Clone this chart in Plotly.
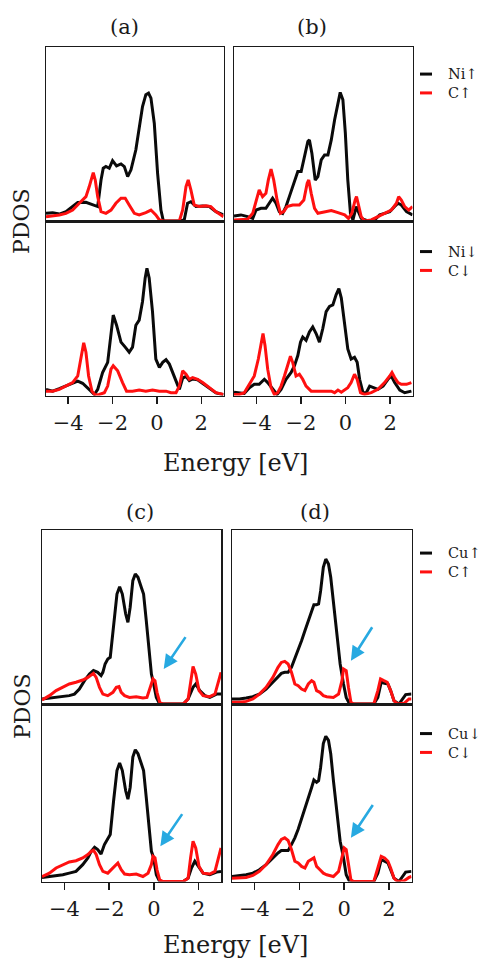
import plotly.graph_objects as go

# ---------------- data (energy in eV, PDOS in arbitrary units) ----------------
# (a) Ni, spin up / down
a_up_ni_e = [-5.0,-4.70,-4.40,-4.10,-3.80,-3.57,-3.20,-2.90,-2.67,-2.52,-2.42,-2.30,-2.15,-2.00,-1.82,-1.62,-1.47,-1.32,-1.17,-0.95,-0.80,-0.65,-0.50,-0.38,-0.27,-0.12,0.03,0.18,0.29,0.71,1.01,1.23,1.38,1.53,1.76,2.06,2.36,2.66,3.0]
a_up_ni_d = [0.044,0.048,0.040,0.054,0.083,0.106,0.107,0.092,0.083,0.236,0.303,0.313,0.303,0.347,0.317,0.328,0.313,0.255,0.294,0.409,0.543,0.658,0.726,0.735,0.706,0.562,0.274,0.063,0,0,0,0.006,0.102,0.111,0.083,0.086,0.083,0.054,0.035]
a_up_c_e = [-5.0,-4.70,-4.40,-4.10,-3.80,-3.50,-3.20,-3.05,-2.87,-2.78,-2.67,-2.52,-2.30,-2.07,-1.85,-1.62,-1.43,-1.25,-1.02,-0.80,-0.50,-0.27,-0.05,0.11,0.29,1.01,1.16,1.31,1.41,1.53,1.68,1.91,2.21,2.43,2.66,3.0]
a_up_c_d = [0.025,0.029,0.035,0.044,0.063,0.102,0.140,0.198,0.278,0.236,0.140,0.054,0.044,0.063,0.102,0.131,0.131,0.092,0.044,0.035,0.048,0.063,0.035,0.006,0,0,0.063,0.198,0.236,0.179,0.092,0.083,0.088,0.083,0.054,0.025]
a_dn_ni_e = [-5.0,-4.70,-4.40,-4.10,-3.80,-3.57,-3.35,-3.05,-2.82,-2.67,-2.45,-2.22,-2.07,-1.97,-1.82,-1.62,-1.43,-1.25,-1.10,-0.95,-0.80,-0.65,-0.53,-0.45,-0.35,-0.20,-0.05,0.11,0.26,0.41,0.56,0.71,0.86,1.01,1.16,1.31,1.46,1.61,1.83,2.06,2.36,2.66,3.0]
a_dn_ni_d = [0.035,0.025,0.039,0.054,0.070,0.083,0.070,0.035,0.006,0.035,0.132,0.190,0.345,0.461,0.403,0.306,0.277,0.248,0.277,0.403,0.432,0.539,0.674,0.729,0.674,0.481,0.209,0.161,0.190,0.205,0.180,0.132,0.074,0.035,0.10,0.11,0.085,0.095,0.09,0.07,0.04,0.015,0.005]
a_dn_c_e = [-5.0,-4.70,-4.40,-4.10,-3.80,-3.57,-3.42,-3.30,-3.20,-3.08,-2.93,-2.78,-2.60,-2.37,-2.22,-2.07,-1.97,-1.77,-1.55,-1.37,-1.10,-0.80,-0.50,-0.20,0.11,0.41,0.63,0.86,1.01,1.16,1.31,1.46,1.61,1.83,2.06,2.36,2.66,3.0]
a_dn_c_d = [0.025,0.025,0.035,0.054,0.074,0.112,0.209,0.302,0.248,0.112,0.025,0.002,0.006,0.016,0.054,0.151,0.171,0.141,0.074,0.025,0.025,0.031,0.025,0.031,0.025,0.025,0.016,0.016,0.054,0.141,0.122,0.093,0.103,0.093,0.074,0.045,0.016,0.006]

# (b) Ni, spin up / down
b_up_ni_e = [-5.0,-4.69,-4.39,-4.16,-4.01,-3.79,-3.57,-3.42,-3.27,-3.12,-2.97,-2.82,-2.67,-2.52,-2.29,-2.14,-1.99,-1.84,-1.69,-1.62,-1.51,-1.36,-1.24,-1.09,-0.94,-0.79,-0.64,-0.49,-0.34,-0.24,-0.12,-0.01,0.10,0.22,0.33,0.48,0.70,1.00,1.30,1.53,1.75,1.98,2.20,2.35,2.50,2.73,3.0]
b_up_ni_d = [0.029,0.035,0.025,0.015,0.063,0.073,0.073,0.102,0.131,0.102,0.054,0.044,0.083,0.140,0.236,0.284,0.284,0.370,0.457,0.466,0.390,0.236,0.255,0.351,0.380,0.380,0.466,0.582,0.687,0.739,0.697,0.505,0.236,0.044,0.006,0.083,0.015,0,0.006,0.035,0.044,0.054,0.083,0.102,0.092,0.054,0.035]
b_up_c_e = [-5.0,-4.69,-4.39,-4.16,-3.97,-3.87,-3.72,-3.57,-3.46,-3.34,-3.22,-3.07,-2.92,-2.77,-2.62,-2.37,-2.07,-1.87,-1.72,-1.65,-1.54,-1.39,-1.24,-0.94,-0.64,-0.34,-0.04,0.13,0.28,0.43,0.49,0.58,0.70,0.85,1.15,1.45,1.75,2.05,2.28,2.38,2.50,2.65,2.83,3.0]
b_up_c_d = [0.006,0.006,0.010,0.044,0.140,0.179,0.140,0.159,0.236,0.298,0.236,0.121,0.044,0.054,0.083,0.092,0.092,0.121,0.217,0.236,0.159,0.073,0.044,0.054,0.060,0.048,0.035,0.015,0.044,0.121,0.140,0.092,0.025,0,0.006,0.025,0.044,0.063,0.102,0.140,0.121,0.083,0.063,0.083]
b_dn_ni_e = [-5.0,-4.76,-4.54,-4.31,-4.09,-3.87,-3.64,-3.49,-3.27,-3.07,-2.89,-2.67,-2.44,-2.29,-2.14,-2.02,-1.92,-1.77,-1.62,-1.47,-1.32,-1.17,-1.02,-0.87,-0.72,-0.57,-0.42,-0.30,-0.19,-0.04,0.10,0.25,0.40,0.52,0.63,0.78,0.93,1.08,1.23,1.45,1.68,1.90,2.05,2.20,2.43,2.65,2.95]
b_dn_ni_d = [0.019,0.016,0.012,0.045,0.064,0.064,0.093,0.074,0.035,0.006,0.035,0.093,0.132,0.171,0.229,0.306,0.335,0.316,0.364,0.393,0.355,0.306,0.384,0.481,0.510,0.519,0.578,0.612,0.558,0.403,0.267,0.209,0.219,0.190,0.093,0.016,0.016,0.054,0.045,0.035,0.054,0.093,0.112,0.074,0.031,0.016,0.025]
b_dn_c_e = [-5.0,-4.76,-4.54,-4.31,-4.09,-3.91,-3.79,-3.70,-3.61,-3.49,-3.34,-3.19,-3.04,-2.89,-2.74,-2.59,-2.47,-2.37,-2.22,-2.07,-1.92,-1.77,-1.54,-1.24,-0.94,-0.64,-0.49,-0.34,-0.19,-0.04,0.10,0.25,0.40,0.52,0.67,0.85,1.15,1.45,1.75,1.98,2.08,2.20,2.35,2.50,2.73,2.95]
b_dn_c_d = [0.006,0.006,0.016,0.064,0.112,0.209,0.287,0.355,0.287,0.151,0.045,0.006,0.016,0.054,0.112,0.171,0.225,0.190,0.112,0.122,0.093,0.054,0.025,0.025,0.025,0.025,0.016,0.031,0.019,0.031,0.045,0.074,0.122,0.093,0.016,0.006,0.016,0.035,0.074,0.112,0.132,0.103,0.074,0.064,0.064,0.074]

# (c) Cu, spin up / down
c_up_cu_e = [-5.0,-4.67,-4.37,-4.07,-3.78,-3.55,-3.33,-3.10,-2.88,-2.70,-2.51,-2.36,-2.28,-2.18,-2.06,-1.95,-1.80,-1.65,-1.53,-1.41,-1.26,-1.16,-1.06,-0.94,-0.83,-0.71,-0.56,-0.46,-0.34,-0.22,-0.11,-0.01,0.11,0.26,0.71,1.31,1.53,1.75,1.87,2.05,2.28,2.50,2.80,3.0]
c_up_cu_d = [0.029,0.034,0.038,0.042,0.048,0.057,0.086,0.134,0.172,0.192,0.182,0.163,0.182,0.230,0.259,0.268,0.460,0.632,0.674,0.632,0.517,0.469,0.556,0.709,0.747,0.728,0.670,0.632,0.479,0.307,0.172,0.115,0.038,0,0,0,0.029,0.096,0.115,0.077,0.048,0.038,0.057,0.057]
c_up_c_e = [-5.0,-4.67,-4.37,-4.07,-3.78,-3.48,-3.18,-2.95,-2.80,-2.70,-2.58,-2.43,-2.28,-2.06,-1.83,-1.68,-1.56,-1.46,-1.31,-1.09,-0.79,-0.49,-0.31,-0.16,-0.04,0.05,0.14,0.26,0.41,0.71,1.31,1.53,1.64,1.75,1.87,2.02,2.20,2.50,2.73,2.88,3.0]
c_up_c_d = [0.023,0.048,0.077,0.096,0.115,0.125,0.138,0.153,0.169,0.176,0.153,0.096,0.057,0.048,0.067,0.096,0.100,0.067,0.048,0.038,0.042,0.034,0.038,0.096,0.144,0.134,0.067,0.010,0,0,0,0.029,0.134,0.215,0.172,0.077,0.048,0.042,0.057,0.134,0.182]
c_dn_cu_e = [-5.0,-4.67,-4.37,-4.07,-3.78,-3.48,-3.18,-2.95,-2.80,-2.65,-2.51,-2.36,-2.21,-2.06,-1.95,-1.80,-1.65,-1.53,-1.41,-1.26,-1.16,-1.06,-0.94,-0.83,-0.71,-0.56,-0.46,-0.34,-0.22,-0.11,-0.01,0.11,0.26,1.31,1.53,1.68,1.83,1.98,2.20,2.50,2.80,3.0]
c_dn_cu_d = [0.023,0.028,0.034,0.038,0.047,0.057,0.095,0.133,0.170,0.193,0.180,0.155,0.208,0.246,0.265,0.455,0.625,0.667,0.625,0.511,0.464,0.530,0.701,0.742,0.720,0.663,0.625,0.473,0.303,0.170,0.133,0.038,0,0,0.019,0.076,0.114,0.085,0.047,0.038,0.053,0.057]
c_dn_c_e = [-5.0,-4.67,-4.37,-4.07,-3.78,-3.48,-3.18,-2.95,-2.80,-2.70,-2.58,-2.43,-2.28,-2.06,-1.83,-1.61,-1.46,-1.31,-1.09,-0.79,-0.49,-0.26,-0.11,-0.04,0.05,0.14,0.26,0.41,1.31,1.53,1.64,1.75,1.87,2.02,2.20,2.50,2.73,2.88,3.0]
c_dn_c_d = [0.028,0.047,0.076,0.095,0.110,0.117,0.133,0.152,0.170,0.176,0.152,0.095,0.057,0.047,0.076,0.104,0.066,0.042,0.038,0.042,0.028,0.047,0.095,0.142,0.133,0.066,0.009,0,0,0.019,0.133,0.227,0.189,0.085,0.047,0.042,0.057,0.133,0.189]

# (d) Cu, spin up / down
d_up_cu_e = [-5.0,-4.67,-4.37,-4.07,-3.78,-3.48,-3.18,-2.95,-2.80,-2.65,-2.50,-2.35,-2.20,-2.05,-1.90,-1.75,-1.60,-1.45,-1.35,-1.23,-1.14,-1.05,-0.93,-0.82,-0.70,-0.60,-0.48,-0.33,-0.18,-0.03,0.09,0.24,0.72,1.32,1.50,1.65,1.80,1.95,2.07,2.22,2.44,2.59,2.74,3.0]
d_up_cu_d = [0.029,0.029,0.034,0.042,0.057,0.086,0.125,0.153,0.176,0.182,0.182,0.211,0.259,0.307,0.364,0.421,0.479,0.527,0.571,0.571,0.575,0.651,0.785,0.833,0.805,0.728,0.575,0.402,0.230,0.115,0.038,0,0,0,0.038,0.125,0.119,0.115,0.077,0.019,0,0.029,0.054,0.057]
d_up_c_e = [-5.0,-4.67,-4.37,-4.07,-3.78,-3.48,-3.18,-2.95,-2.80,-2.65,-2.50,-2.35,-2.20,-2.05,-1.90,-1.75,-1.60,-1.45,-1.35,-1.23,-1.08,-0.93,-0.78,-0.48,-0.25,-0.10,-0.03,0.09,0.19,0.30,0.42,1.32,1.50,1.62,1.77,1.92,2.07,2.22,2.37,2.67,2.89,3.0]
d_up_c_d = [0.010,0.010,0.015,0.029,0.057,0.096,0.153,0.211,0.239,0.245,0.230,0.182,0.115,0.105,0.086,0.077,0.115,0.134,0.125,0.077,0.067,0.048,0.042,0.038,0.057,0.134,0.201,0.192,0.096,0.010,0,0,0.077,0.144,0.134,0.125,0.077,0.019,0,0.004,0.029,0.029]
d_dn_cu_e = [-5.0,-4.67,-4.37,-4.07,-3.78,-3.48,-3.18,-2.95,-2.80,-2.65,-2.50,-2.35,-2.20,-2.05,-1.90,-1.75,-1.60,-1.45,-1.35,-1.23,-1.14,-1.05,-0.93,-0.82,-0.70,-0.60,-0.48,-0.33,-0.18,-0.03,0.09,0.24,1.32,1.50,1.65,1.80,1.95,2.07,2.22,2.44,2.59,2.74,3.0]
d_dn_cu_d = [0.028,0.032,0.038,0.047,0.066,0.095,0.133,0.161,0.174,0.174,0.174,0.208,0.246,0.294,0.350,0.417,0.473,0.530,0.572,0.559,0.568,0.644,0.777,0.818,0.795,0.720,0.568,0.398,0.227,0.133,0.038,0,0,0.047,0.123,0.114,0.104,0.066,0.019,0,0.028,0.053,0.057]
d_dn_c_e = [-5.0,-4.67,-4.37,-4.07,-3.78,-3.48,-3.18,-2.95,-2.80,-2.65,-2.50,-2.35,-2.20,-2.05,-1.90,-1.75,-1.60,-1.35,-1.23,-1.08,-0.93,-0.78,-0.48,-0.25,-0.10,0.0,0.09,0.19,0.30,0.42,1.32,1.50,1.65,1.80,1.95,2.07,2.22,2.37,2.67,2.89,3.0]
d_dn_c_d = [0.019,0.019,0.023,0.034,0.057,0.095,0.152,0.208,0.237,0.246,0.231,0.180,0.114,0.104,0.085,0.076,0.114,0.133,0.085,0.066,0.047,0.038,0.028,0.057,0.133,0.189,0.180,0.095,0.009,0,0,0.076,0.142,0.133,0.114,0.076,0.019,0,0.004,0.023,0.028]

# arrow markers (tail -> head) for the Cu panels, in eV / PDOS units
arrow_tail_e = [1.46, 1.31, 1.29, 1.32]
arrow_tail_d = [0.393, 0.388, 0.450, 0.439]
arrow_head_e = [0.44, 0.29, 0.30, 0.30]
arrow_head_d = [0.201, 0.199, 0.249, 0.246]

energy_ticks = [-4, -2, 0, 2]
panel_titles = ["(a)", "(b)", "(c)", "(d)"]
metal_labels = ["Ni↑", "Ni↓", "Cu↑", "Cu↓"]
carbon_labels = ["C↑", "C↓", "C↑", "C↓"]

# ---------------- layout helpers ----------------
W, H = 488, 962
SERIF = "DejaVu Serif"
TXT = "#1a1a1a"
BLACK = "#0a0a0a"
RED = "#ff1010"
BLUE = "#27a9e1"
LW = 3.0


def px_x(v):
    return v / W


def px_y(v):
    return 1 - v / H


col_dom = {
    "a": [px_x(46), px_x(223.5)],
    "b": [px_x(234), px_x(412.5)],
    "c": [px_x(42), px_x(221)],
    "d": [px_x(232), px_x(411.5)],
}
row_dom = {
    "ab_up": [px_y(221), px_y(47)],
    "ab_dn": [px_y(395.5), px_y(221)],
    "cd_up": [px_y(704), px_y(530)],
    "cd_dn": [px_y(881.5), px_y(704)],
}

panels = [
    # (axis index, col, row, metal e, metal d, carbon e, carbon d, label index, bottom row?)
    (1, "a", "ab_up", a_up_ni_e, a_up_ni_d, a_up_c_e, a_up_c_d, 0, False),
    (2, "a", "ab_dn", a_dn_ni_e, a_dn_ni_d, a_dn_c_e, a_dn_c_d, 1, True),
    (3, "b", "ab_up", b_up_ni_e, b_up_ni_d, b_up_c_e, b_up_c_d, 0, False),
    (4, "b", "ab_dn", b_dn_ni_e, b_dn_ni_d, b_dn_c_e, b_dn_c_d, 1, True),
    (5, "c", "cd_up", c_up_cu_e, c_up_cu_d, c_up_c_e, c_up_c_d, 2, False),
    (6, "c", "cd_dn", c_dn_cu_e, c_dn_cu_d, c_dn_c_e, c_dn_c_d, 3, True),
    (7, "d", "cd_up", d_up_cu_e, d_up_cu_d, d_up_c_e, d_up_c_d, 2, False),
    (8, "d", "cd_dn", d_dn_cu_e, d_dn_cu_d, d_dn_c_e, d_dn_c_d, 3, True),
]

fig = go.Figure()
layout = dict(
    width=W, height=H, autosize=False,
    margin=dict(l=0, r=0, t=0, b=0),
    paper_bgcolor="white", plot_bgcolor="white",
    font=dict(family=SERIF, color=TXT, size=16),
    showlegend=False,
)

for idx, col, row, me, md, ce, cd, li, bottom in panels:
    assert len(me) == len(md) and len(ce) == len(cd), idx
    sfx = "" if idx == 1 else str(idx)
    xa, ya = "x" + sfx, "y" + sfx
    fig.add_trace(go.Scatter(
        x=me, y=md, mode="lines", xaxis=xa, yaxis=ya,
        line=dict(color=BLACK, width=LW), name=metal_labels[li], hoverinfo="skip"))
    fig.add_trace(go.Scatter(
        x=ce, y=cd, mode="lines", xaxis=xa, yaxis=ya,
        line=dict(color=RED, width=LW), name=carbon_labels[li], hoverinfo="skip"))
    layout["xaxis" + sfx] = dict(
        domain=col_dom[col], anchor=ya, range=[-5, 3],
        showline=True, mirror=True, linecolor=TXT, linewidth=1.5,
        showgrid=False, zeroline=False,
        tickvals=energy_ticks,
        ticks="outside" if bottom else "", ticklen=7, tickwidth=1.5, tickcolor=TXT,
        showticklabels=bottom, ticklabelstandoff=1,
        tickfont=dict(family=SERIF, size=21, color=TXT),
        automargin=False, fixedrange=True,
    )
    layout["yaxis" + sfx] = dict(
        domain=row_dom[row], anchor=xa, range=[0, 1],
        showline=True, mirror=True, linecolor=TXT, linewidth=1.5,
        showgrid=False, zeroline=False, ticks="", showticklabels=False,
        automargin=False, fixedrange=True,
    )

annotations = []
shapes = []


def label(text, xp, yp, size, **kw):
    d = dict(text=text, x=px_x(xp), y=px_y(yp), xref="paper", yref="paper",
             xanchor="center", yanchor="middle", showarrow=False,
             font=dict(family=SERIF, size=size, color=TXT))
    d.update(kw)
    annotations.append(d)


# panel titles
for t, (xp, yp) in zip(panel_titles, [(124, 27), (312, 27), (140, 512), (315, 512)]):
    label(t, xp, yp, 21)
# y labels
for yp in [221, 706]:
    label("PDOS", 22, yp, 22, textangle=-90)
# x labels
for yp in [463, 945]:
    label("Energy [eV]", 235, yp, 24)

# legends (short line swatch + two-line text) beside columns (b)/(d)
LEG_FONT = 14.5
LEG_STEP = LEG_FONT * 1.3
legend_rows = [(0, 83.5), (1, 261), (2, 562.5), (3, 743)]
for li, ymid in legend_rows:
    for yy, colr in [(ymid - LEG_STEP / 2, BLACK), (ymid + LEG_STEP / 2, RED)]:
        shapes.append(dict(type="line", xref="paper", yref="paper",
                           x0=px_x(420), x1=px_x(432), y0=px_y(yy), y1=px_y(yy),
                           line=dict(color=colr, width=LW)))
    label(metal_labels[li] + "<br>" + carbon_labels[li], 446, ymid, LEG_FONT,
          xanchor="left", align="left")

# blue arrows in the Cu panels
for k, ax_i in enumerate([5, 6, 7, 8]):
    sfx = str(ax_i)
    annotations.append(dict(
        x=arrow_head_e[k], y=arrow_head_d[k], ax=arrow_tail_e[k], ay=arrow_tail_d[k],
        xref="x" + sfx, yref="y" + sfx, axref="x" + sfx, ayref="y" + sfx,
        text="", showarrow=True, arrowhead=2, arrowsize=1.1, arrowwidth=2.6,
        arrowcolor=BLUE))

layout["annotations"] = annotations
layout["shapes"] = shapes
fig.update_layout(**layout)
fig.write_html(
    "out.html",
    config={"displayModeBar": False, "staticPlot": True},
    post_script="document.body.style.margin='0px';document.body.style.overflow='hidden';",
)
